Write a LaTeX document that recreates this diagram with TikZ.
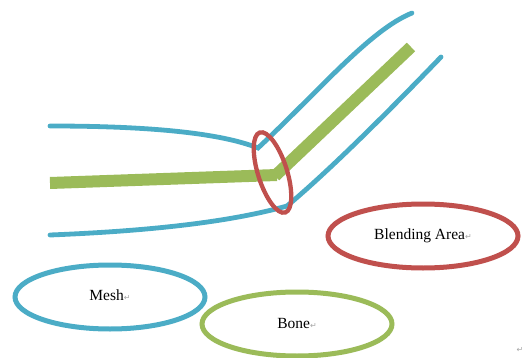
\documentclass[tikz,border=0pt]{standalone}
\usepackage{fontspec}
\setmainfont{Liberation Serif}
\newfontfamily\symfont{DejaVu Sans}
\usetikzlibrary{shapes.geometric}
\definecolor{meshblue}{HTML}{4BACC6}
\definecolor{bonegreen}{HTML}{9BBB59}
\definecolor{blendred}{HTML}{C0504D}
\tikzset{
  meshline/.style={draw=meshblue, line width=4.8pt, line cap=round},
  boneline/.style={draw=bonegreen, line width=12pt, line cap=butt},
  legend/.style={ellipse, line width=5pt, inner sep=0pt, minimum width=190pt, minimum height=64pt, font=\fontsize{15.5}{18}\selectfont},
  pmark/.style={font=\symfont\fontsize{8}{9}\selectfont, text=gray!70, inner sep=0pt}
}
\newcommand{\retmark}{{\symfont\fontsize{8}{9}\selectfont\textcolor{gray!70}{↵}}}
\begin{document}
\begin{tikzpicture}[x=1pt,y=-1pt]
\useasboundingbox (0,0) rectangle (529,358);
% bone
\coordinate (b0) at (50,183);
\coordinate (b1) at (277,175);
\coordinate (b2) at (275,176);
\coordinate (b3) at (411,47);
\draw[boneline] (b0) -- (b1);
\draw[boneline] (b2) -- (b3);
% mesh outline
\coordinate (u0) at (50,126);
\coordinate (uk) at (258,148);
\coordinate (u1) at (412,13);
\coordinate (l0) at (50,235);
\coordinate (lk) at (287,206);
\coordinate (l1) at (441,57);
\draw[meshline] (u0) .. controls (150,126) and (220,133) .. (uk)
  .. controls (320,90) and (370,30) .. (u1);
\draw[meshline] (l0) .. controls (150,231) and (230,222) .. (lk)
  .. controls (330,170) and (390,110) .. (l1);
% joint blending area
\node[ellipse, draw=blendred, line width=4.3pt, inner sep=0pt,
  minimum width=84pt, minimum height=29pt, rotate=-72.4] (joint) at (272.5,172.5) {};
% legend
\node[legend, draw=blendred] (blend) at (423,236) {Blending Area\retmark};
\node[legend, draw=meshblue] (mesh) at (110,297) {\raisebox{3pt}{Mesh\retmark}};
\node[legend, draw=bonegreen] (bone) at (297,324) {\raisebox{2pt}{Bone\retmark}};
\node[pmark] (endmark) at (520,350) {↵};
\end{tikzpicture}
\end{document}
